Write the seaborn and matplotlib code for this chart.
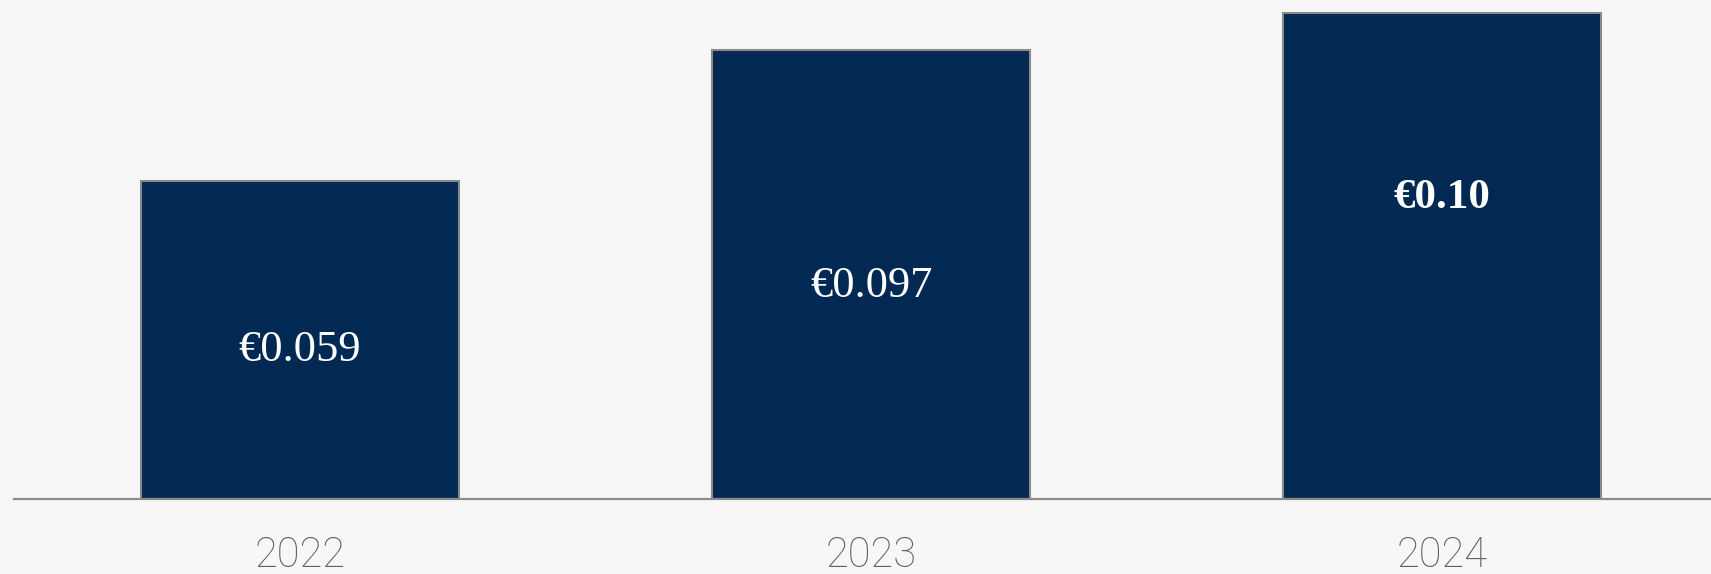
import matplotlib
matplotlib.use("Agg")
import pandas as pd
import seaborn as sns
from matplotlib import pyplot as plt

# data
years = ["2022", "2023", "2024"]
bar_heights = [0.0654, 0.0924, 0.10]  # bar heights as drawn (relative to 2024)
value_labels = ["€0.059", "€0.097", "€0.10"]
label_bold = [False, False, True]

navy = "#012953"
edge_grey = "#8a8a8a"
bg = "#f7f7f7"

sns.set_theme(style="white")
plt.rcParams["font.family"] = ["Roboto", "DejaVu Sans"]

df = pd.DataFrame({"Year": years, "Value": bar_heights})

fig = plt.figure(figsize=(17.11, 5.74), dpi=100, facecolor=bg)
ax = fig.add_axes([14 / 1711, 75 / 574, 1697 / 1711, 499 / 574])
ax.set_facecolor(bg)

sns.barplot(data=df, x="Year", y="Value", color=navy, width=0.557,
            saturation=1, edgecolor=edge_grey, linewidth=1.5, ax=ax)

ax.set_xlim(-0.501, 2.471)
ax.set_ylim(0, 0.1027)

# label positions as fraction of bar height
label_pos = [0.47, 0.475, 0.62]
for i, (h, txt, bold) in enumerate(zip(bar_heights, value_labels, label_bold)):
    ax.text(i, h * label_pos[i], txt, ha="center", va="center", color="white",
            fontsize=32 if not bold else 31, fontweight="bold" if bold else "normal",
            family=["Liberation Serif", "DejaVu Serif"])

sns.despine(ax=ax, left=True, top=True, right=True)
ax.spines["bottom"].set_color(edge_grey)
ax.spines["bottom"].set_linewidth(1.6)
ax.set_yticks([])
ax.set_xlabel("")
ax.set_ylabel("")
ax.tick_params(axis="x", length=0, pad=26, labelsize=30, labelcolor="#5f5f5f")
for lbl in ax.get_xticklabels():
    lbl.set_fontweight("light")

fig.savefig("out.png", dpi=100, facecolor=bg)
